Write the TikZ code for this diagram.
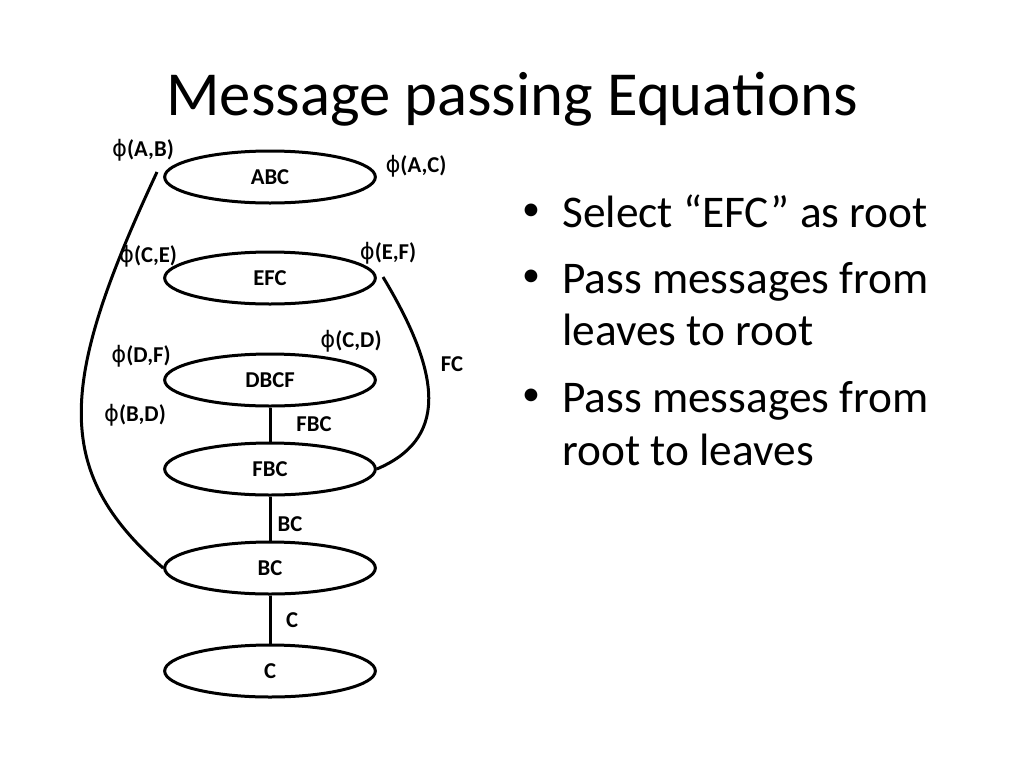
\documentclass[tikz,border=0pt]{standalone}
\usepackage{fontspec}
\setmainfont{Carlito}
\newfontfamily\phfont{DejaVu Sans}
\usetikzlibrary{shapes.geometric}

\begin{document}
\begin{tikzpicture}[x=0.75pt,y=0.75pt]
        \tikzstyle{clique}=[draw,ellipse,line width=2.25pt,minimum width=158pt,minimum height=39pt,inner sep=0pt,font=\fontsize{17}{20}\selectfont\bfseries]
        \tikzstyle{lbl}=[inner sep=0pt,font=\fontsize{17}{20}\selectfont\bfseries]
        \tikzstyle{link}=[line width=2.25pt]
        \tikzstyle{bul}=[anchor=base west,inner sep=0pt,font=\fontsize{34}{40}\selectfont]
        \tikzstyle{dot}=[inner sep=0pt,font=\fontsize{27}{30}\selectfont]
        \useasboundingbox (0,0) rectangle (1024,-768);
        \node [anchor=base,inner sep=0pt] (title) at (512,-115) {\fontsize{47}{56}\selectfont Message passing Equations};
        \node [clique] (ABC) at (270,-177) {ABC};
        \node [clique] (EFC) at (270,-278) {EFC};
        \node [clique] (DBCF) at (270,-380) {DBCF};
        \node [clique] (FBC) at (270,-469) {FBC};
        \node [clique] (BC) at (270,-568) {BC};
        \node [clique] (C) at (270,-671) {C};
        \draw [link] (DBCF) -- (FBC);
        \draw [link] (FBC) -- (BC);
        \draw [link] (BC) -- (C);
        \coordinate (abstart) at (157,-172);
        \coordinate (efstart) at (383,-277);
        \draw [link] (abstart) .. controls (60,-380) and (50,-470) .. (BC.west);
        \draw [link] (efstart) .. controls (445,-380) and (445,-440) .. (FBC.east);
        \node [lbl] (sFBC) at (314,-424) {FBC};
        \node [lbl] (sBC) at (290,-524) {BC};
        \node [lbl] (sC) at (292,-620) {C};
        \node [lbl] (sFC) at (452,-364) {FC};
        \node [lbl] (pAB) at (143,-150) {{\phfont\mdseries ϕ}(A,B)};
        \node [lbl] (pAC) at (416,-166) {{\phfont\mdseries ϕ}(A,C)};
        \node [lbl] (pCE) at (148,-256) {{\phfont\mdseries ϕ}(C,E)};
        \node [lbl] (pEF) at (388,-253) {{\phfont\mdseries ϕ}(E,F)};
        \node [lbl] (pDF) at (141,-356) {{\phfont\mdseries ϕ}(D,F)};
        \node [lbl] (pCD) at (351,-341) {{\phfont\mdseries ϕ}(C,D)};
        \node [lbl] (pBD) at (135,-415) {{\phfont\mdseries ϕ}(B,D)};
        \node [dot] (b1) at (531,-212) {•};
        \node [bul] (t1) at (562,-227) {Select “EFC” as root};
        \node [dot] (b2) at (531,-278) {•};
        \node [bul] (t2) at (562,-293) {Pass messages from};
        \node [bul] (t3) at (562,-345) {leaves to root};
        \node [dot] (b3) at (531,-397) {•};
        \node [bul] (t4) at (562,-412) {Pass messages from};
        \node [bul] (t5) at (562,-465) {root to leaves};
\end{tikzpicture}
\end{document}
